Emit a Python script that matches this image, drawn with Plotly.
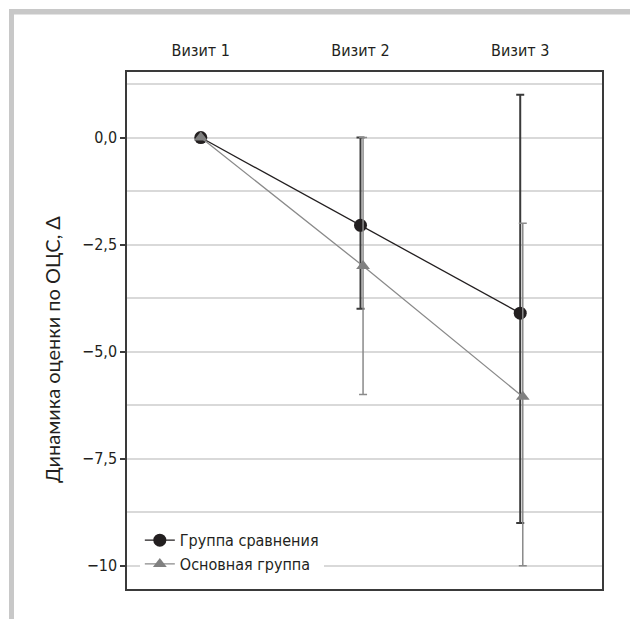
import plotly.graph_objects as go

visits = ["Визит 1", "Визит 2", "Визит 3"]

# Группа сравнения
comp_name = "Группа сравнения"
comp_mean = [0.0, -2.05, -4.1]
comp_hi = [0.0, 0.0, 1.0]
comp_lo = [0.0, -4.0, -9.0]

# Основная группа
main_name = "Основная группа"
main_mean = [0.0, -3.0, -6.05]
main_hi = [0.0, 0.0, -2.0]
main_lo = [0.0, -6.0, -10.0]

y_tickvals = [0, -2.5, -5, -7.5, -10]
y_ticktext = ["0,0", "−2,5", "−5,0", "−7,5", "−10"]
y_title = "Динамика оценки по ОЦС, Δ"

idx = list(range(len(visits)))
shift = 0.016
x_main = [i + shift if i > 0 else i for i in idx]

def err(mean, hi, lo):
    return ([h - m for h, m in zip(hi, mean)], [m - l for m, l in zip(mean, lo)])

cp, cm = err(comp_mean, comp_hi, comp_lo)
mp, mm = err(main_mean, main_hi, main_lo)

FONT_N = "DejaVu Sans Condensed, Liberation Sans Narrow, sans-serif"

fig = go.Figure()
fig.add_trace(go.Scatter(
    x=idx, y=comp_mean, name=comp_name, mode="lines+markers",
    line=dict(color="#231f20", width=1.3),
    marker=dict(symbol="circle", size=13, color="#231f20"),
    error_y=dict(type="data", symmetric=False, array=cp, arrayminus=cm,
                 color="#3a3a3a", thickness=2, width=4),
))
fig.add_trace(go.Scatter(
    x=x_main, y=main_mean, name=main_name, mode="lines+markers",
    line=dict(color="#8a8a8a", width=1.3),
    marker=dict(symbol="triangle-up", size=12, color="#808080"),
    error_y=dict(type="data", symmetric=False, array=mp, arrayminus=mm,
                 color="#8a8a8a", thickness=1.5, width=4),
))

W, H = 630, 619
ml, mr, mt, mb = 127, 28, 72, 30
pw, ph = W - ml - mr, H - mt - mb

def px(x):
    return (x - ml) / pw

def py(y):
    return (H - mb - y) / ph

band = "#c8c8c8"
shapes = [
    dict(type="rect", xref="paper", yref="paper", x0=px(9), x1=px(640), y0=py(14.5), y1=py(9),
         fillcolor=band, line=dict(width=0), layer="below"),
    dict(type="rect", xref="paper", yref="paper", x0=px(9), x1=px(14), y0=py(630), y1=py(9),
         fillcolor=band, line=dict(width=0), layer="below"),
]

annotations = [
    dict(text=y_title, xref="paper", yref="paper", x=px(52), y=py(350),
         xanchor="center", yanchor="middle", textangle=-90, showarrow=False,
         font=dict(family="Lato, sans-serif", size=20, color="#231f20")),
]

fig.update_layout(
    width=W, height=H,
    margin=dict(l=ml, r=mr, t=mt, b=mb, autoexpand=False),
    paper_bgcolor="white", plot_bgcolor="white",
    font=dict(family=FONT_N, size=15, color="#231f20"),
    showlegend=True,
    legend=dict(x=0.027, y=0.015, xanchor="left", yanchor="bottom",
                bgcolor="white", font=dict(family=FONT_N, size=16, color="#231f20"),
                tracegroupgap=0, itemwidth=30),
    shapes=shapes,
    annotations=annotations,
    xaxis=dict(
        side="top", tickmode="array", tickvals=idx, ticktext=visits,
        range=[-0.462, 2.512], showgrid=False, zeroline=False, automargin=False,
        showline=True, mirror=True, linecolor="#3a3a3a", linewidth=1.5,
        ticks="", ticklabelstandoff=8,
        tickfont=dict(family=FONT_N, size=16, color="#231f20"),
    ),
    yaxis=dict(
        range=[-10.54, 1.53], tickmode="array", tickvals=y_tickvals, ticktext=y_ticktext,
        showgrid=True, gridcolor="#d9d9d9", gridwidth=1.5, zeroline=False, automargin=False,
        showline=True, mirror=True, linecolor="#3a3a3a", linewidth=1.5,
        ticks="outside", ticklen=5, tickcolor="#3a3a3a", tickwidth=1.5,
        tickfont=dict(family=FONT_N, size=16, color="#231f20"),
        minor=dict(tick0=0, dtick=1.25, showgrid=True, gridcolor="#d9d9d9", gridwidth=1.5, ticks=""),
    ),
)

fig.write_html("out.html", config={"displayModeBar": False},
               post_script="document.body.style.margin='0';document.body.style.overflow='hidden';")
